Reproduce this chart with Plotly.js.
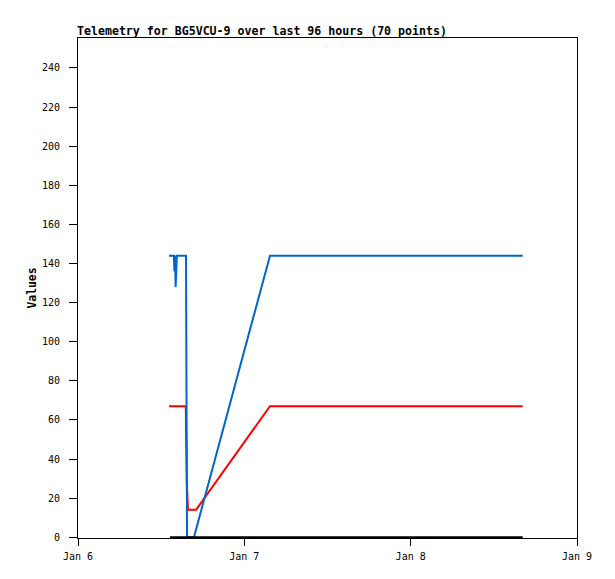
<!DOCTYPE html>
<html>
<head>
<meta charset="utf-8">
<script src="https://cdn.plot.ly/plotly-3.0.1.min.js"></script>
<style>html,body{margin:0;padding:0;background:#fff}#chart{width:615px;height:579px}</style>
</head>
<body>
<div id="chart"></div>
<script>
// times as timestamps
const blueTimes = ["2024-01-06 13:08","2024-01-06 13:50","2024-01-06 13:55","2024-01-06 14:00","2024-01-06 14:05","2024-01-06 14:10","2024-01-06 14:16","2024-01-06 15:35","2024-01-06 15:37","2024-01-06 15:44","2024-01-06 16:44","2024-01-07 03:42","2024-01-08 16:10"];
const blueValues = [144, 144, 136, 144, 128, 144, 144, 144, 108, 0, 0, 144, 144];

const redTimes = ["2024-01-06 13:08","2024-01-06 15:33","2024-01-06 15:36","2024-01-06 15:42","2024-01-06 15:52","2024-01-06 17:02","2024-01-07 03:42","2024-01-08 16:10"];
const redValues = [67, 67, 54, 28, 14, 14, 67, 67];

const blackTimes = ["2024-01-06 13:16","2024-01-08 16:10"];
const blackValues = [0, 0];

const xTickVals = ["2024-01-06","2024-01-07","2024-01-08","2024-01-09"];
const xTickText = ["Jan 6","Jan 7","Jan 8","Jan 9"];

const traces = [
  {x: redTimes, y: redValues, type: 'scatter', mode: 'lines', line: {color: '#ff0000', width: 2}, hoverinfo: 'skip'},
  {x: blueTimes, y: blueValues, type: 'scatter', mode: 'lines', line: {color: '#0066cc', width: 2}, hoverinfo: 'skip'},
  {x: blackTimes, y: blackValues, type: 'scatter', mode: 'lines', line: {color: '#000000', width: 2}, hoverinfo: 'skip'}
];

const tickFont = {family: 'DejaVu Sans Mono', size: 10, color: '#000'};
const layout = {
  width: 615, height: 579,
  margin: {l: 78, r: 38, t: 38, b: 41},
  paper_bgcolor: '#fff', plot_bgcolor: '#fff',
  showlegend: false,
  title: {text: '<b>Telemetry for BG5VCU-9 over last 96 hours (70 points)</b>', x: 77/615, xanchor: 'left', xref: 'container', y: 1 - 31/579, yanchor: 'middle', font: {family: 'DejaVu Sans Mono', size: 11.6, color: '#000'}},
  xaxis: {
    type: 'date', range: ['2024-01-06', '2024-01-09'],
    tickvals: xTickVals, ticktext: xTickText,
    showgrid: false, zeroline: false,
    showline: true, linecolor: '#000', linewidth: 1, mirror: true,
    ticks: 'outside', ticklen: 7, tickcolor: '#000', tickwidth: 1,
    ticklabelstandoff: 2,
    tickfont: tickFont
  },
  yaxis: {
    range: [-0.4, 255.3], tickvals: [0,20,40,60,80,100,120,140,160,180,200,220,240],
    showgrid: false, zeroline: false,
    showline: true, linecolor: '#000', linewidth: 1, mirror: true,
    ticks: 'outside', ticklen: 8, tickcolor: '#000', tickwidth: 1,
    ticklabelstandoff: 7,
    tickfont: tickFont,
    title: {text: '<b>Values</b>', standoff: 2, font: {family: 'DejaVu Sans Mono', size: 11.4, color: '#000'}}
  }
};
Plotly.newPlot('chart', traces, layout, {staticPlot: true, displayModeBar: false});
</script>
</body>
</html>
